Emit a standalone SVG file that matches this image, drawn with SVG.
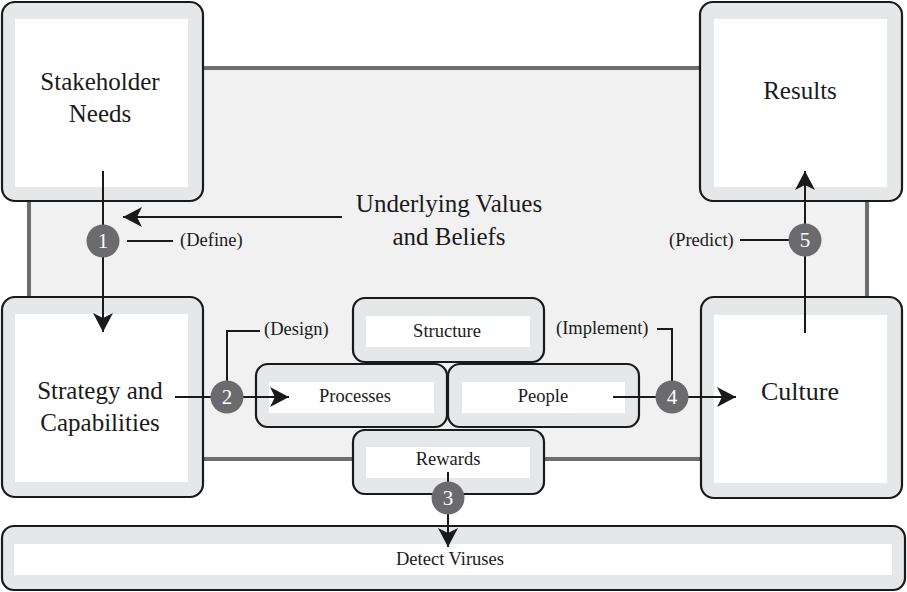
<svg xmlns="http://www.w3.org/2000/svg" width="907" height="592" viewBox="0 0 907 592">
<style>
.outer{fill:#e6e7e8;stroke:#1a1a1a;stroke-width:2.2}
.inner{fill:#ffffff;stroke:none}
text{font-family:'Liberation Serif','DejaVu Serif',serif}
.big{font-size:25px;fill:#1a1a1a;text-anchor:middle}
.mid{font-size:18.5px;fill:#1a1a1a;text-anchor:middle}
.lab{font-size:18.5px;fill:#1a1a1a}
.num{font-size:21px;fill:#ffffff;text-anchor:middle}
.ln{fill:none;stroke:#1a1a1a;stroke-width:2}
.circ{fill:#6b6b6d;stroke:none}
</style>
<defs>
<marker id="ah" markerUnits="userSpaceOnUse" viewBox="-1 -11 22 22" refX="19" refY="0" markerWidth="22" markerHeight="22" orient="auto">
<path d="M0,-10 L19,0 L0,10 L5,0 Z" fill="#1a1a1a"/>
</marker>
</defs>
<rect x="0" y="0" width="907" height="592" fill="#ffffff"/>
<g id="panel">
<rect x="29" y="68" width="838" height="391" fill="#f1f1f2" stroke="#6d6e70" stroke-width="4"/>
<text class="big" x="449" y="212">Underlying Values</text>
<text class="big" x="449" y="245">and Beliefs</text>
</g>
<g id="stakeholder">
<rect class="outer" x="2" y="2" width="201" height="199" rx="13"/>
<rect class="inner" x="15" y="19" width="173" height="168"/>
<text class="big" x="100" y="90">Stakeholder</text>
<text class="big" x="100" y="122">Needs</text>
</g>
<g id="results">
<rect class="outer" x="700" y="2" width="202" height="199" rx="13"/>
<rect class="inner" x="714" y="19" width="173" height="168"/>
<text class="big" x="800" y="99">Results</text>
</g>
<g id="strategy">
<rect class="outer" x="2" y="297" width="201" height="200" rx="13"/>
<rect class="inner" x="15" y="314" width="173" height="168"/>
<text class="big" x="100" y="399">Strategy and</text>
<text class="big" x="100" y="431">Capabilities</text>
</g>
<g id="culture">
<rect class="outer" x="701" y="297" width="201" height="201" rx="13"/>
<rect class="inner" x="714" y="315" width="173" height="168"/>
<text class="big" x="800" y="400" style="font-size:26px">Culture</text>
</g>
<g id="structure">
<rect class="outer" x="353" y="298" width="191" height="64" rx="12"/>
<rect class="inner" x="366" y="316" width="164" height="31"/>
<text class="mid" x="447" y="337">Structure</text>
</g>
<g id="processes">
<rect class="outer" x="256" y="364" width="191" height="63" rx="12"/>
<rect class="inner" x="269" y="382" width="165" height="31"/>
<text class="mid" x="355" y="402">Processes</text>
</g>
<g id="people">
<rect class="outer" x="448" y="364" width="191" height="63" rx="12"/>
<rect class="inner" x="462" y="382" width="163" height="31"/>
<text class="mid" x="543" y="402">People</text>
</g>
<g id="rewards">
<rect class="outer" x="353" y="430" width="191" height="64" rx="12"/>
<rect class="inner" x="366" y="447" width="164" height="31"/>
<text class="mid" x="448" y="465">Rewards</text>
</g>
<g id="detect">
<rect class="outer" x="2" y="526" width="903" height="64" rx="12"/>
<rect class="inner" x="14" y="544" width="878" height="31"/>
<text class="mid" x="450" y="565">Detect Viruses</text>
</g>
<g id="connectors">
<line class="ln" x1="103" y1="171" x2="103" y2="332" marker-end="url(#ah)"/>
<line class="ln" x1="342" y1="217" x2="123" y2="217" marker-end="url(#ah)"/>
<line class="ln" x1="127" y1="241" x2="173" y2="241"/>
<line class="ln" x1="175" y1="397" x2="289" y2="397" marker-end="url(#ah)"/>
<polyline class="ln" points="227,385 227,331 260,331"/>
<line class="ln" x1="613" y1="397" x2="736" y2="397" marker-end="url(#ah)"/>
<polyline class="ln" points="657,329 672,329 672,385"/>
<line class="ln" x1="448" y1="472" x2="448" y2="547" marker-end="url(#ah)"/>
<line class="ln" x1="805" y1="333" x2="805" y2="171" marker-end="url(#ah)"/>
<line class="ln" x1="740" y1="240" x2="790" y2="240"/>
</g>
<g id="badges">
<g id="b1"><circle class="circ" cx="103" cy="241" r="16.5"/><text class="num" x="103" y="248">1</text></g>
<g id="b2"><circle class="circ" cx="227" cy="397" r="16.5"/><text class="num" x="227" y="404">2</text></g>
<g id="b3"><circle class="circ" cx="448" cy="498" r="16.5"/><text class="num" x="448" y="505">3</text></g>
<g id="b4"><circle class="circ" cx="672" cy="397" r="16.5"/><text class="num" x="672" y="404">4</text></g>
<g id="b5"><circle class="circ" cx="805" cy="240" r="16.5"/><text class="num" x="805" y="247">5</text></g>
</g>
<g id="labels">
<text class="lab" x="180" y="246">(Define)</text>
<text class="lab" x="264" y="335">(Design)</text>
<text class="lab" x="556" y="334">(Implement)</text>
<text class="lab" x="669" y="246">(Predict)</text>
</g>
</svg>
